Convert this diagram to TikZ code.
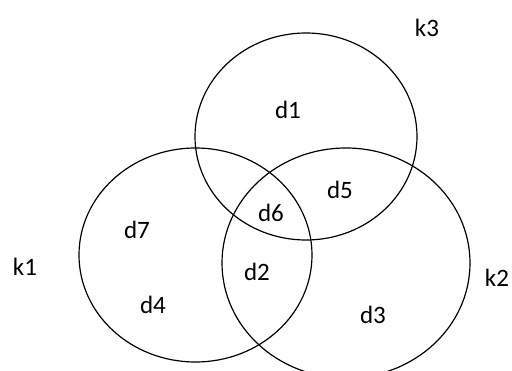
\documentclass[tikz,border=0pt]{standalone}
\usepackage{fontspec}
\setmainfont{Carlito}
\begin{document}
\begin{tikzpicture}[x=1pt,y=-1pt]
\useasboundingbox (0,0) rectangle (512,371);
\tikzset{setline/.style={line width=1.2pt, black}, lbl/.style={font=\fontsize{25}{29}\selectfont, inner sep=0pt}}
\begin{scope}
\clip (0,0) rectangle (512,371);
\draw[setline] (306,136.5) ellipse (111 and 103.5);
\draw[setline] (195.5,255) ellipse (116.5 and 107);
\draw[setline] (346,263) ellipse (124 and 115);
\end{scope}
\node[lbl] (k3) at (427,28) {k3};
\node[lbl] (k1) at (25,267) {k1};
\node[lbl] (k2) at (497,278) {k2};
\node[lbl] (d1) at (288,110) {d1};
\node[lbl] (d5) at (340,190) {d5};
\node[lbl] (d6) at (271,213) {d6};
\node[lbl] (d7) at (137,230) {d7};
\node[lbl] (d2) at (257,272) {d2};
\node[lbl] (d4) at (153,305) {d4};
\node[lbl] (d3) at (373,315) {d3};
\end{tikzpicture}
\end{document}
